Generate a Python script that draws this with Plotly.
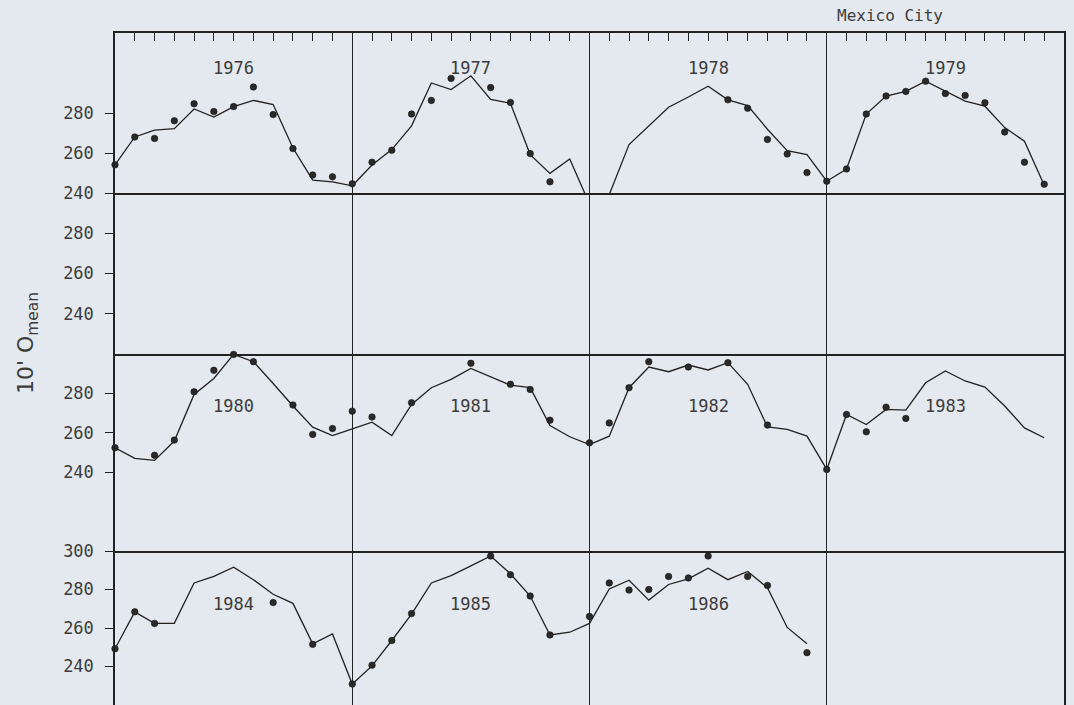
import plotly.graph_objects as go

# Monthly mean values, Jan..Dec of each year. None = month not plotted.
years_row1 = [1976, 1977, 1978, 1979]
years_row3 = [1980, 1981, 1982, 1983]
years_row4 = [1984, 1985, 1986]

smooth_row1 = [
    254.0, 268.0, 271.4, 272.2, 282.0, 278.0, 283.2, 286.3, 284.2, 262.5, 246.4, 245.6,
    243.6, 254.0, 261.7, 273.6, 295.0, 291.7, 298.6, 286.8, 284.9, 259.2, 249.8, 257.0,
    234.5, 239.2, 264.2, 273.6, 282.9, 288.0, 293.4, 286.6, 283.7, 271.9, 261.2, 259.2,
    245.9, 252.0, 279.5, 288.5, 290.8, 295.9, 290.8, 285.9, 283.4, 272.7, 265.9, 243.9,
]
observed_row1 = [
    254.1, 268.0, 267.3, 276.1, 284.6, 280.7, 283.2, 293.0, 279.2, 262.2, 249.0, 248.1,
    244.6, 255.4, 261.4, 279.5, 286.3, 297.3, None, 292.7, 285.3, 259.7, 245.6, None,
    239.0, 239.5, None, None, None, None, None, 286.6, 282.4, 266.8, 259.5, 250.2,
    245.9, 252.0, 279.5, 288.5, 290.8, 295.9, 289.7, 288.8, 285.1, 270.5, 255.4, 244.4,
]

smooth_row3 = [
    252.4, 247.0, 246.0, 255.8, 279.5, 287.6, 299.8, 296.1, 285.0, 273.6, 262.9, 258.6,
    262.0, 265.4, 258.6, 274.4, 282.9, 287.1, 292.7, 288.5, 284.2, 282.9, 263.7, 258.0,
    254.0, 258.3, 282.9, 293.4, 291.0, 294.4, 291.9, 295.6, 284.6, 263.0, 261.7, 258.3,
    241.4, 269.3, 264.2, 271.9, 271.5, 285.4, 291.4, 286.3, 283.2, 273.6, 262.5, 257.5,
]
observed_row3 = [
    252.4, None, 248.6, 256.3, 280.8, 291.7, 299.8, 296.1, None, 274.1, 259.2, 262.2,
    271.0, 268.0, None, 275.3, None, None, 295.3, None, 284.6, 282.0, 266.4, None,
    254.9, 265.0, 282.9, 296.1, None, 293.4, None, 295.6, None, 263.9, None, None,
    241.4, 269.3, 260.5, 273.0, 267.3, None, None, None, None, None, None, None,
]

smooth_row4 = [
    249.2, 268.4, 262.4, 262.4, 283.4, 286.8, 291.6, 285.1, 277.5, 272.8, 251.8, 256.9,
    230.9, 240.3, 253.5, 267.2, 283.4, 287.2, 292.3, 297.4, 288.2, 276.6, 256.4, 257.8,
    262.4, 280.3, 284.8, 274.5, 282.6, 285.5, 291.1, 285.1, 289.4, 280.9, 260.3, 251.8,
]
observed_row4 = [
    249.2, 268.4, 262.4, None, None, None, None, None, 273.2, None, 251.5, None,
    230.9, 240.7, 253.5, 267.5, None, None, None, 297.4, 287.7, 276.6, 256.4, None,
    266.0, 283.4, 279.7, 280.0, 286.8, 286.0, 297.4, None, 286.8, 282.1, None, 247.2,
]

row_starts = [1976, 1976, 1980, 1984]
row_ranges = [(240, 320), (220, 300), (200, 300), (220, 300)]
row_ticks = [[240, 260, 280], [240, 260, 280], [240, 260, 280], [240, 260, 280, 300]]
row_label_y = [302.5, None, 273.5, 272.3]

INK = "#222222"
TEXT = "#3c3c3c"
PAPER = "#e4e8ef"
FONT = "DejaVu Sans Mono"

W, H = 1074, 705
x_dom = [115 / W, 1064 / W]
row_px = [(33, 193), (193, 354), (354, 551), (551, 705)]
y_doms = [[1 - b / H, 1 - t / H] for t, b in row_px]


def month_x(years):
    return [y + m / 12 for y in years for m in range(12)]


fig = go.Figure()

series = [
    (1, years_row1, smooth_row1, observed_row1),
    (3, years_row3, smooth_row3, observed_row3),
    (4, years_row4, smooth_row4, observed_row4),
]
for row, years, smooth, observed in series:
    xs = month_x(years)
    suffix = "" if row == 1 else str(row)
    fig.add_trace(go.Scatter(
        x=xs, y=smooth, mode="lines", xaxis="x" + suffix, yaxis="y" + suffix,
        line=dict(color=INK, width=1.3), showlegend=False, hoverinfo="skip",
    ))
    fig.add_trace(go.Scatter(
        x=xs, y=observed, mode="markers", xaxis="x" + suffix, yaxis="y" + suffix,
        marker=dict(color="#2a2a2a", size=6.5, line=dict(color="#111111", width=0.6)),
        cliponaxis=False, showlegend=False, hoverinfo="skip",
    ))

# empty second panel still gets its frame
fig.add_trace(go.Scatter(x=[None], y=[None], mode="lines", xaxis="x2", yaxis="y2",
                         showlegend=False, hoverinfo="skip"))

layout = dict(
    width=W, height=H,
    margin=dict(l=0, r=0, t=0, b=0, pad=0, autoexpand=False),
    paper_bgcolor=PAPER, plot_bgcolor=PAPER,
    showlegend=False,
    annotations=[],
)

for i in range(4):
    suffix = "" if i == 0 else str(i + 1)
    start = row_starts[i]
    xa = dict(
        domain=x_dom, anchor="y" + suffix, range=[start, start + 4],
        tick0=start, dtick=1, showgrid=True, gridcolor=INK, gridwidth=1.3,
        showline=True, mirror=False, linecolor=INK, linewidth=1.5,
        zeroline=False, showticklabels=False, ticks="", automargin=False,
    )
    if i == 0:
        xa.update(
            side="top", mirror=True, ticks="inside", ticklen=8, tickcolor=INK, tickwidth=1.2,
            minor=dict(tick0=start, dtick=1 / 12, ticks="inside", ticklen=8,
                       tickcolor=INK, tickwidth=1.2, showgrid=False),
        )
    ya = dict(
        domain=y_doms[i], anchor="x" + suffix, range=list(row_ranges[i]),
        tickvals=row_ticks[i], ticks="outside", ticklen=8, tickcolor=INK, tickwidth=1.2,
        showgrid=False, zeroline=False, showline=True, mirror=True,
        linecolor=INK, linewidth=1.5, ticklabelstandoff=8, automargin=False,
        tickfont=dict(family=FONT, size=17, color=TEXT),
    )
    layout["xaxis" + suffix] = xa
    layout["yaxis" + suffix] = ya

all_years = [years_row1, None, years_row3, years_row4]
for i, years in enumerate(all_years):
    if years is None:
        continue
    suffix = "" if i == 0 else str(i + 1)
    for y in years:
        layout["annotations"].append(dict(
            x=y + 0.5, y=row_label_y[i], xref="x" + suffix, yref="y" + suffix,
            text=str(y), showarrow=False, xanchor="center", yanchor="middle",
            font=dict(family=FONT, size=17, color=TEXT),
        ))

layout["annotations"].append(dict(
    x=890 / W, y=1 - 15 / H, xref="paper", yref="paper", text="Mexico City",
    xanchor="center", yanchor="middle",
    showarrow=False, font=dict(family=FONT, size=16, color=TEXT),
))
layout["annotations"].append(dict(
    x=28 / W, y=1 - 343 / H, xref="paper", yref="paper",
    text="10' O<sub>mean</sub>", textangle=-90, showarrow=False,
    xanchor="center", yanchor="middle",
    font=dict(family="DejaVu Sans", size=22, color=TEXT),
))

fig.update_layout(**layout)
fig.write_html("out.html")
